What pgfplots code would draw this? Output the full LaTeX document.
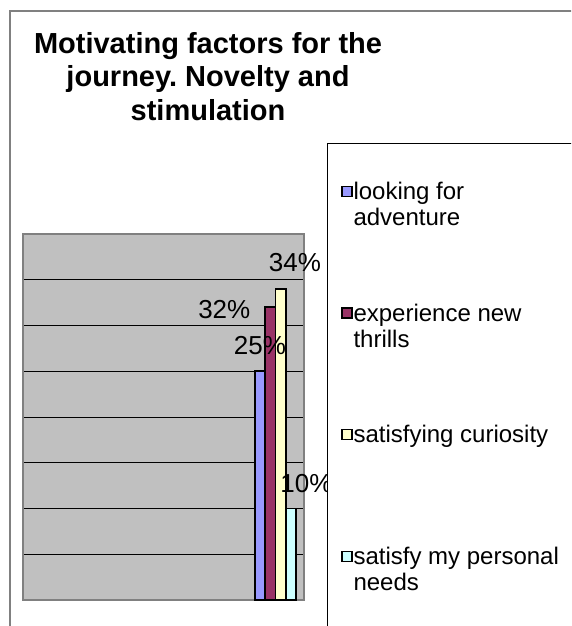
\documentclass[border=0pt]{standalone}
\usepackage{fontspec}
\setmainfont{Liberation Sans}
\usepackage{pgfplots}
\pgfplotsset{compat=1.18}
\definecolor{barblue}{HTML}{9999FF}
\definecolor{barmaroon}{HTML}{993366}
\definecolor{baryellow}{HTML}{FFFFCC}
\definecolor{barcyan}{HTML}{CCFFFF}
\definecolor{plotgray}{HTML}{C0C0C0}
\definecolor{bordergray}{HTML}{808080}
\frenchspacing
\pgfplotsset{
  sq/.style={legend image code/.code={\fill[black] (0pt,3pt) rectangle (10.5pt,13.5pt); \fill[#1] (1.5pt,4.5pt) rectangle (9pt,12pt);}},
  lbl/.style n args={2}{every node near coord/.append style={anchor=base, xshift=#1, yshift=#2, font=\fontsize{26}{30}\selectfont, text=black}},
  bars/.style={ybar, bar width=10.3pt, bar shift=0pt, draw=black, line width=1.8pt, fill=#1, forget plot},
}
\begin{document}
\begin{tikzpicture}[x=1pt,y=1pt]
\path[use as bounding box] (0,0) rectangle (571,-626);
\clip (0,0) rectangle (571,-626);
\fill[white] (0,0) rectangle (571,-626);
\draw[bordergray, line width=2pt] (10,-700) -- (10,-11) -- (700,-11);
\begin{axis}[
  scale only axis,
  width=281pt, height=366pt,
  at={(23pt,-600pt)}, anchor=south west,
  xmin=0, xmax=281, ymin=0, ymax=40,
  xtick=\empty,
  ytick={5,10,...,35},
  yticklabels={},
  major tick length=0pt,
  ymajorgrids,
  major grid style={black, line width=0.9pt},
  axis line style={bordergray, line width=2.2pt},
  axis background/.style={fill=plotgray},
  clip=false,
  title={Motivating factors for the\\journey. Novelty and\\stimulation},
  title style={at={(axis description cs:0.6584,1.535)}, anchor=north, align=center,
    inner sep=0pt, font=\fontsize{29}{33.5}\selectfont\bfseries},
  nodes near coords={\pgfmathprintnumber[assume math mode=true]{\pgfplotspointmeta}\%},
  point meta=y,
  legend style={at={(axis description cs:1.0819,1.2486)}, anchor=north west,
    draw=black, line width=1pt, fill=white,
    inner xsep=13.5pt, inner ysep=37.8pt,
    column sep=1pt, row sep=21.7pt,
    font=\fontsize{24}{26}\selectfont,
    nodes={inner sep=0pt, fill=none, draw=none, text height=18.2pt, text depth=81.8pt},
    cells={anchor=base west}},
]
\addplot[bars=barcyan, lbl={15.5pt}{16pt}] coordinates {(268,10)};
\addplot[bars=baryellow, lbl={14.4pt}{17pt}] coordinates {(257.6,34)};
\addplot[bars=barmaroon, lbl={-46pt}{-11pt}] coordinates {(247.3,32)};
\addplot[bars=barblue, lbl={0pt}{17pt}] coordinates {(237,25)};
\addlegendimage{sq=barblue}
\addlegendentry{\parbox[t]{230pt}{\strut looking for\\adventure}}
\addlegendimage{sq=barmaroon}
\addlegendentry{\parbox[t]{230pt}{\strut experience new\\thrills}}
\addlegendimage{sq=baryellow}
\addlegendentry{\parbox[t]{230pt}{\strut satisfying curiosity}}
\addlegendimage{sq=barcyan}
\addlegendentry{\parbox[t]{230pt}{\strut satisfy my personal\\needs}}
\end{axis}
\end{tikzpicture}
\end{document}
